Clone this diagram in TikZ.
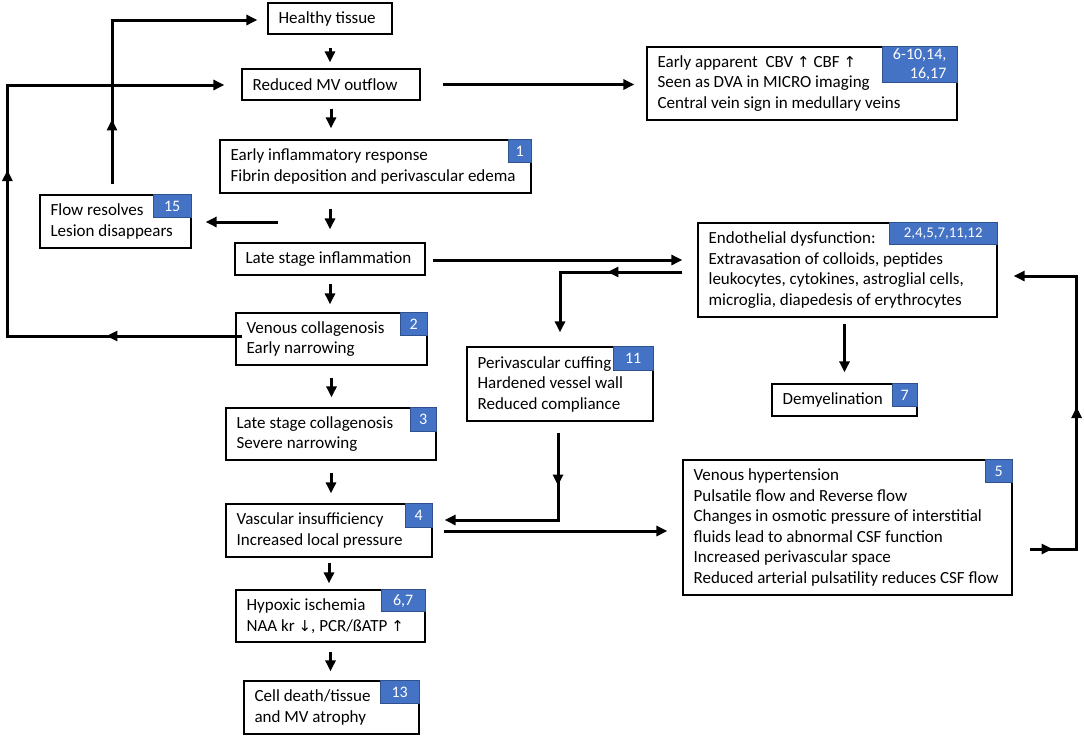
\documentclass[tikz,border=0pt]{standalone}
\usepackage{fontspec}
\setmainfont{Carlito}
\newfontfamily\symf{DejaVu Sans}
\usetikzlibrary{arrows.meta,decorations.markings,calc}
\definecolor{badgeblue}{HTML}{4472C4}
\definecolor{badgeline}{HTML}{2F528F}
\newcommand\up{{\symf\fontsize{15}{15}\selectfont ↑}}
\newcommand\dn{{\symf\fontsize{15}{15}\selectfont ↓}}
\tikzset{mytip/.tip={Triangle[length=11pt,width=10pt]}}
\begin{document}
\begin{tikzpicture}[x=1pt,y=-1pt,
  box/.style={draw=black,line width=1.2pt,fill=white,inner sep=0pt},
  txt/.style={anchor=west,inner xsep=11pt,inner ysep=0pt,align=left,font=\fontsize{17}{20.5}\selectfont},
  badge/.style={fill=badgeblue,draw=badgeline,line width=0.8pt,text=white,inner sep=0pt,anchor=north east,font=\fontsize{16}{19}\selectfont},
  arr/.style={line width=3pt,-mytip},
  mid/.style={postaction={decorate,decoration={markings,mark=at position #1 with {\arrow{mytip}}}}},
  twomid/.style 2 args={postaction={decorate,decoration={markings,mark=at position #1 with {\arrow{mytip}},mark=at position #2 with {\arrow{mytip}}}}}]
\fill[white] (0,0) rectangle (1084,737);
\useasboundingbox (0,0) rectangle (1084,737);

% boxes
\node[box,minimum width=124,minimum height=31] (healthy) at (330,18.5) {};
\node[txt] (healthy-t) at (healthy.west) {Healthy tissue};

\node[box,minimum width=178,minimum height=31] (reduced) at (331,84.5) {};
\node[txt] (reduced-t) at (reduced.west) {Reduced MV outflow};

\node[box,minimum width=311,minimum height=53] (early) at (375.5,166.5) {};
\node[txt] (early-t) at (early.west) {Early inflammatory response\\Fibrin deposition and perivascular edema};
\node[badge,minimum width=23,minimum height=23] (early-b) at (early.north east) {1};

\node[box,minimum width=151,minimum height=53] (flow) at (115.5,221.5) {};
\node[txt] (flow-t) at (flow.west) {Flow resolves\\Lesion disappears};
\node[badge,minimum width=38,minimum height=23] (flow-b) at (flow.north east) {15};

\node[box,minimum width=190,minimum height=32] (lateinf) at (330,259) {};
\node[txt] (lateinf-t) at (lateinf.west) {Late stage inflammation};

\node[box,minimum width=191,minimum height=52] (venous) at (331.5,339) {};
\node[txt] (venous-t) at (venous.west) {Venous collagenosis\\Early narrowing};
\node[badge,minimum width=27,minimum height=23] (venous-b) at (venous.north east) {2};

\node[box,minimum width=210,minimum height=52] (latecol) at (331,434) {};
\node[txt] (latecol-t) at (latecol.west) {Late stage collagenosis\\Severe narrowing};
\node[badge,minimum width=26,minimum height=24] (latecol-b) at (latecol.north east) {3};

\node[box,minimum width=206,minimum height=53] (vasc) at (329,530.5) {};
\node[txt] (vasc-t) at (vasc.west) {Vascular insufficiency\\Increased local pressure};
\node[badge,minimum width=27,minimum height=24] (vasc-b) at (vasc.north east) {4};

\node[box,minimum width=189,minimum height=52] (hypox) at (330.5,616) {};
\node[txt] (hypox-t) at (hypox.west) {Hypoxic ischemia\\NAA kr \dn, PCR/ßATP \up};
\node[badge,minimum width=44,minimum height=22] (hypox-b) at (hypox.north east) {6,7};

\node[box,minimum width=175,minimum height=53] (cell) at (331.5,707.5) {};
\node[txt] (cell-t) at (cell.west) {Cell death/tissue\\and MV atrophy};
\node[badge,minimum width=39,minimum height=23] (cell-b) at (cell.north east) {13};

\node[box,minimum width=310,minimum height=73] (apparent) at (802,83.5) {};
\node[txt] (apparent-t) at (apparent.west) {Early apparent\ \ CBV \up\ CBF \up\\Seen as DVA in MICRO imaging\\Central vein sign in medullary veins};
\node[badge,minimum width=75,minimum height=36,align=right] (apparent-b) at (apparent.north east) {6-10,14,\\16,17};

\node[box,minimum width=299,minimum height=94] (endo) at (847.5,270) {};
\node[txt] (endo-t) at (endo.west) {Endothelial dysfunction:\\Extravasation of colloids, peptides\\leukocytes, cytokines, astroglial cells,\\microglia, diapedesis of erythrocytes};
\node[badge,minimum width=108,minimum height=22,font=\fontsize{14.8}{16}\selectfont] (endo-b) at (endo.north east) {2,4,5,7,11,12};

\node[box,minimum width=186,minimum height=74] (peri) at (560,384) {};
\node[txt] (peri-t) at (peri.west) {Perivascular cuffing\\Hardened vessel wall\\Reduced compliance};
\node[badge,minimum width=40,minimum height=24] (peri-b) at (peri.north east) {11};

\node[box,minimum width=145,minimum height=32] (demy) at (844.5,400) {};
\node[txt] (demy-t) at (demy.west) {Demyelination};
\node[badge,minimum width=25,minimum height=23] (demy-b) at (demy.north east) {7};

\node[box,minimum width=329,minimum height=135] (vh) at (847.5,527.5) {};
\node[txt] (vh-t) at (vh.west) {Venous hypertension\\Pulsatile flow and Reverse flow\\Changes in osmotic pressure of interstitial\\fluids lead to abnormal CSF function\\Increased perivascular space\\Reduced arterial pulsatility reduces CSF flow};
\node[badge,minimum width=27,minimum height=23] (vh-b) at (vh.north east) {5};

% main vertical chain
\draw[arr] ($(healthy.south)+(0,13)$) -- ($(healthy.south|-reduced.north)+(0,-6)$);
\draw[arr] ($(reduced.south)+(0,8)$) -- ($(reduced.south|-early.north)+(0,-11)$);
\draw[arr] ($(early.south-|lateinf.north)+(0,15)$) -- ($(lateinf.north)+(0,-13)$);
\draw[arr] ($(lateinf.south)+(0,8)$) -- ($(lateinf.south|-venous.north)+(0,-8)$);
\draw[arr] ($(venous.south)+(0,12)$) -- ($(venous.south|-latecol.north)+(0,-10)$);
\draw[arr] ($(latecol.south)+(0,12)$) -- ($(latecol.south|-vasc.north)+(0,-10)$);
\draw[arr] ($(vasc.south)+(0,5)$) -- ($(vasc.south|-hypox.north)+(0,-6)$);
\draw[arr] ($(hypox.south)+(0,9)$) -- ($(hypox.south|-cell.north)+(0,-9)$);

% horizontal arrows
\draw[arr] ($(reduced.east)+(22,0)$) -- ($(reduced.east-|apparent.west)+(-12,0)$);
\draw[arr] ($(lateinf.east)+(7,1)$) -- ($(lateinf.east-|endo.west)+(-15,1)$);
\coordinate (fsrc) at (278,222);
\draw[arr] (fsrc) -- ($(fsrc-|flow.east)+(14,0)$);
\draw[arr] ($(vasc.east)+(11,0.5)$) -- ($(vasc.east-|vh.west)+(-15,0.5)$);
\draw[arr] ($(endo.south-|demy.north)+(0,6)$) -- ($(demy.north)+(0,-11)$);

% loops
\draw[arr,mid=65pt] ($(flow.north)+(-3.5,-10)$) |- ($(healthy.west)+(-10,1.5)$);
\draw[arr,twomid={136pt}{401pt}] ($(venous.west)+(7,-3)$) -- ++(-235,0) |- ($(reduced.west)+(-17,0.5)$);
\draw[arr,mid=75pt] ($(endo.west)+(-15,2)$) -| ($(peri.north)+(0,-14)$);
\draw[arr,mid=53pt] ($(peri.south)+(-2,11)$) |- ($(vasc.east)+(12,-10.5)$);
\draw[arr,twomid={23pt}{189pt}] ($(vh.east)+(17,21.5)$) -- ++(47,0) |- ($(endo.east)+(16,6)$);
\end{tikzpicture}
\end{document}
